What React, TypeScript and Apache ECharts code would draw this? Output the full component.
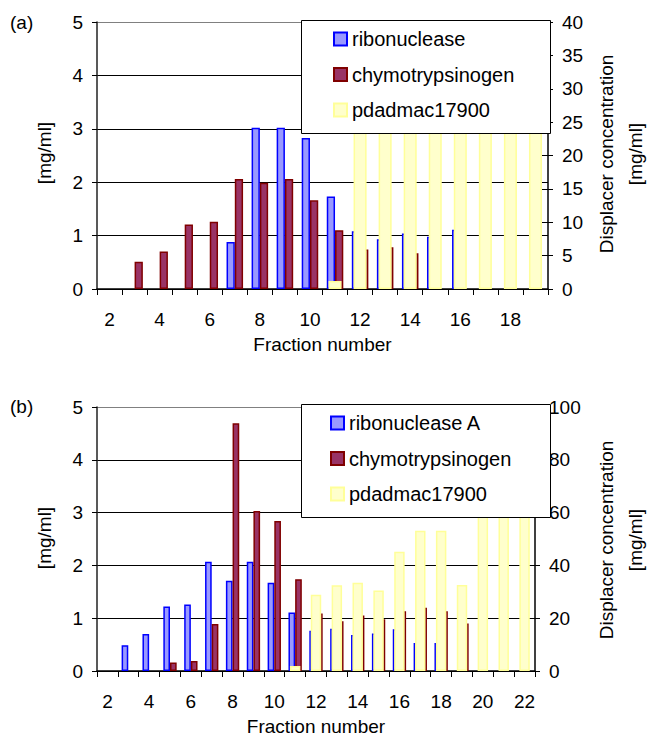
import React, { useEffect, useRef } from 'react';
import * as echarts from 'echarts';

const FONT = '"Liberation Sans", Arial, sans-serif';

// Chart (a)
const categoriesA = ['2', '3', '4', '5', '6', '7', '8', '9', '10', '11', '12', '13', '14', '15', '16', '17', '18', '19'];
const ribonucleaseA = [null, null, null, null, null, 0.88, 3.02, 3.02, 2.83, 1.73, 1.08, 0.93, 1.04, 0.98, 1.11, null, null, null];
const chymotrypsinogenA = [null, 0.51, 0.7, 1.21, 1.26, 2.06, 1.99, 2.06, 1.66, 1.1, 0.74, 0.78, 0.67, null, null, null, null, null];
const pdadmacA = [null, null, null, null, null, null, null, null, null, 1.2, 28, 28, 28, 28, 28, 28, 28, 28];

// Chart (b)
const categoriesB = ['2', '3', '4', '5', '6', '7', '8', '9', '10', '11', '12', '13', '14', '15', '16', '17', '18', '19', '20', '21', '22'];
const ribonucleaseB = [null, 0.49, 0.7, 1.22, 1.26, 2.07, 1.71, 2.07, 1.67, 1.11, 0.76, 0.8, 0.68, 0.71, 0.79, 0.53, 0.53, null, null, null, null];
const chymotrypsinogenB = [null, null, null, 0.16, 0.19, 0.89, 4.69, 3.03, 2.84, 1.74, 1.09, 0.94, 1.05, 0.98, 1.13, 1.2, 1.13, 0.9, null, null, null];
const pdadmacB = [null, null, null, null, null, null, null, null, null, 1.9, 28.9, 32.5, 33.4, 30.5, 45.2, 53.1, 53.1, 32.6, 65, 65, 65];

const leftMax = 5;
const leftInterval = 1;
const rightMaxA = 40;
const rightIntervalA = 5;
const rightMaxB = 100;
const rightIntervalB = 20;

const blueStyle = { color: '#9999FF', borderColor: '#0000FF', borderWidth: 1.5 };
const redStyle = { color: '#993366', borderColor: '#800000', borderWidth: 1.5 };
const yellowStyle = { color: '#FFFFCC', borderColor: '#FFFF99', borderWidth: 1.5 };

function xAxes(gridIndex: number, cats: string[]) {
  return [
    {
      gridIndex,
      type: 'category',
      data: cats,
      boundaryGap: true,
      axisLine: { show: true, lineStyle: { color: '#000', width: 1.5 } },
      axisTick: { show: true, interval: 0, length: 6, lineStyle: { color: '#000', width: 1 } },
      axisLabel: { interval: 1, margin: 21, fontSize: 19, color: '#000', fontFamily: FONT },
      splitLine: { show: false },
      name: 'Fraction number',
      nameLocation: 'middle',
      nameGap: 46,
      nameTextStyle: { fontSize: 19, color: '#000', fontFamily: FONT },
    },
    { gridIndex, type: 'category', data: cats, show: false, boundaryGap: true },
  ];
}

function yAxes(gridIndex: number, rMax: number, rInt: number) {
  return [
    {
      gridIndex,
      type: 'value',
      position: 'left',
      min: 0,
      max: leftMax,
      interval: leftInterval,
      axisLine: { show: true, lineStyle: { color: '#222', width: 1.5 } },
      axisTick: { show: true, length: 5, lineStyle: { color: '#000' } },
      axisLabel: { margin: 14, fontSize: 19, color: '#000', fontFamily: FONT },
      splitLine: {
        show: true,
        lineStyle: { color: ['#000', '#000', '#000', '#000', '#000', '#808080'], width: 1 },
      },
    },
    {
      gridIndex,
      type: 'value',
      position: 'right',
      min: 0,
      max: rMax,
      interval: rInt,
      axisLine: { show: true, lineStyle: { color: '#000', width: 1.5 } },
      axisTick: { show: true, length: 5, lineStyle: { color: '#000' } },
      axisLabel: { margin: 14, fontSize: 19, color: '#000', fontFamily: FONT },
      splitLine: { show: false },
    },
    {
      gridIndex,
      type: 'value',
      position: 'right',
      min: 0,
      max: rMax,
      interval: rInt,
      axisLine: { show: false },
      axisTick: { show: true, inside: true, length: 6, lineStyle: { color: '#000' } },
      axisLabel: { show: false },
      splitLine: { show: false },
    },
  ];
}

function barSeries(
  names: string[],
  xBase: number,
  yBase: number,
  ribo: (number | null)[],
  chymo: (number | null)[],
  pdad: (number | null)[],
  gap: string,
  yGap: string
) {
  return [
    {
      type: 'bar',
      name: names[0],
      xAxisIndex: xBase,
      yAxisIndex: yBase,
      data: ribo,
      barGap: '0%',
      barCategoryGap: gap,
      itemStyle: blueStyle,
      z: 2,
    },
    {
      type: 'bar',
      name: names[1],
      xAxisIndex: xBase,
      yAxisIndex: yBase,
      data: chymo,
      barGap: '0%',
      barCategoryGap: gap,
      itemStyle: redStyle,
      z: 2,
    },
    {
      type: 'bar',
      name: names[2],
      xAxisIndex: xBase + 1,
      yAxisIndex: yBase + 1,
      data: pdad,
      barCategoryGap: yGap,
      itemStyle: yellowStyle,
      z: 3,
    },
  ];
}

function legendBox(y: number) {
  return {
    type: 'rect',
    z: 10,
    shape: { x: 301.5, y: y + 0.5, width: 249, height: 113 },
    style: { fill: '#fff', stroke: '#000', lineWidth: 1 },
  };
}

function vText(text: string, x: number, y: number) {
  return {
    type: 'text',
    x,
    y,
    rotation: Math.PI / 2,
    z: 10,
    style: { text, align: 'center', verticalAlign: 'middle', font: `19px ${FONT}`, fill: '#000' },
  };
}

export default function App() {
  const ref = useRef<HTMLDivElement>(null);

  useEffect(() => {
    document.body.style.margin = '0';
    if (!ref.current) return;
    const chart = echarts.init(ref.current, null, { renderer: 'svg' });
    const legendCommon = {
      orient: 'vertical',
      itemWidth: 13,
      itemHeight: 13,
      itemGap: 15.5,
      padding: 0,
      icon: 'rect',
      z: 20,
      selectedMode: false,
      textStyle: { fontSize: 20, lineHeight: 20, color: '#000', fontFamily: FONT },
    };
    chart.setOption({
      animation: false,
      backgroundColor: '#fff',
      grid: [
        { left: 97, top: 22, width: 451, height: 267, containLabel: false },
        { left: 97, top: 407, width: 438, height: 266, containLabel: false },
      ],
      xAxis: [...xAxes(0, categoriesA), ...xAxes(1, categoriesB)],
      yAxis: [...yAxes(0, rightMaxA, rightIntervalA), ...yAxes(1, rightMaxB, rightIntervalB)],
      legend: [
        {
          ...legendCommon,
          left: 333,
          top: 29,
          data: ['ribonuclease', 'chymotrypsinogen', 'pdadmac17900'],
        },
        {
          ...legendCommon,
          left: 330,
          top: 413,
          data: ['ribonuclease A', 'chymotrypsinogen', 'pdadmac17900'],
        },
      ],
      graphic: [
        legendBox(20),
        legendBox(404),
        { type: 'text', x: 10, y: 22, z: 10, style: { text: '(a)', verticalAlign: 'middle', font: `19px ${FONT}`, fill: '#000' } },
        { type: 'text', x: 10, y: 406, z: 10, style: { text: '(b)', verticalAlign: 'middle', font: `19px ${FONT}`, fill: '#000' } },
        vText('[mg/ml]', 44, 153),
        vText('Displacer concentration', 606, 154),
        vText('[mg/ml]', 635, 154),
        vText('[mg/ml]', 44, 538),
        vText('Displacer concentration', 606, 540),
        vText('[mg/ml]', 635, 540),
      ],
      series: [
        ...barSeries(['ribonuclease', 'chymotrypsinogen', 'pdadmac17900'], 0, 0, ribonucleaseA, chymotrypsinogenA, pdadmacA, '34%', '48%'),
        ...barSeries(['ribonuclease A', 'chymotrypsinogen', 'pdadmac17900'], 2, 3, ribonucleaseB, chymotrypsinogenB, pdadmacB, '36%', '50%'),
      ],
    });
    return () => chart.dispose();
  }, []);

  return <div ref={ref} style={{ width: 650, height: 737 }} />;
}
